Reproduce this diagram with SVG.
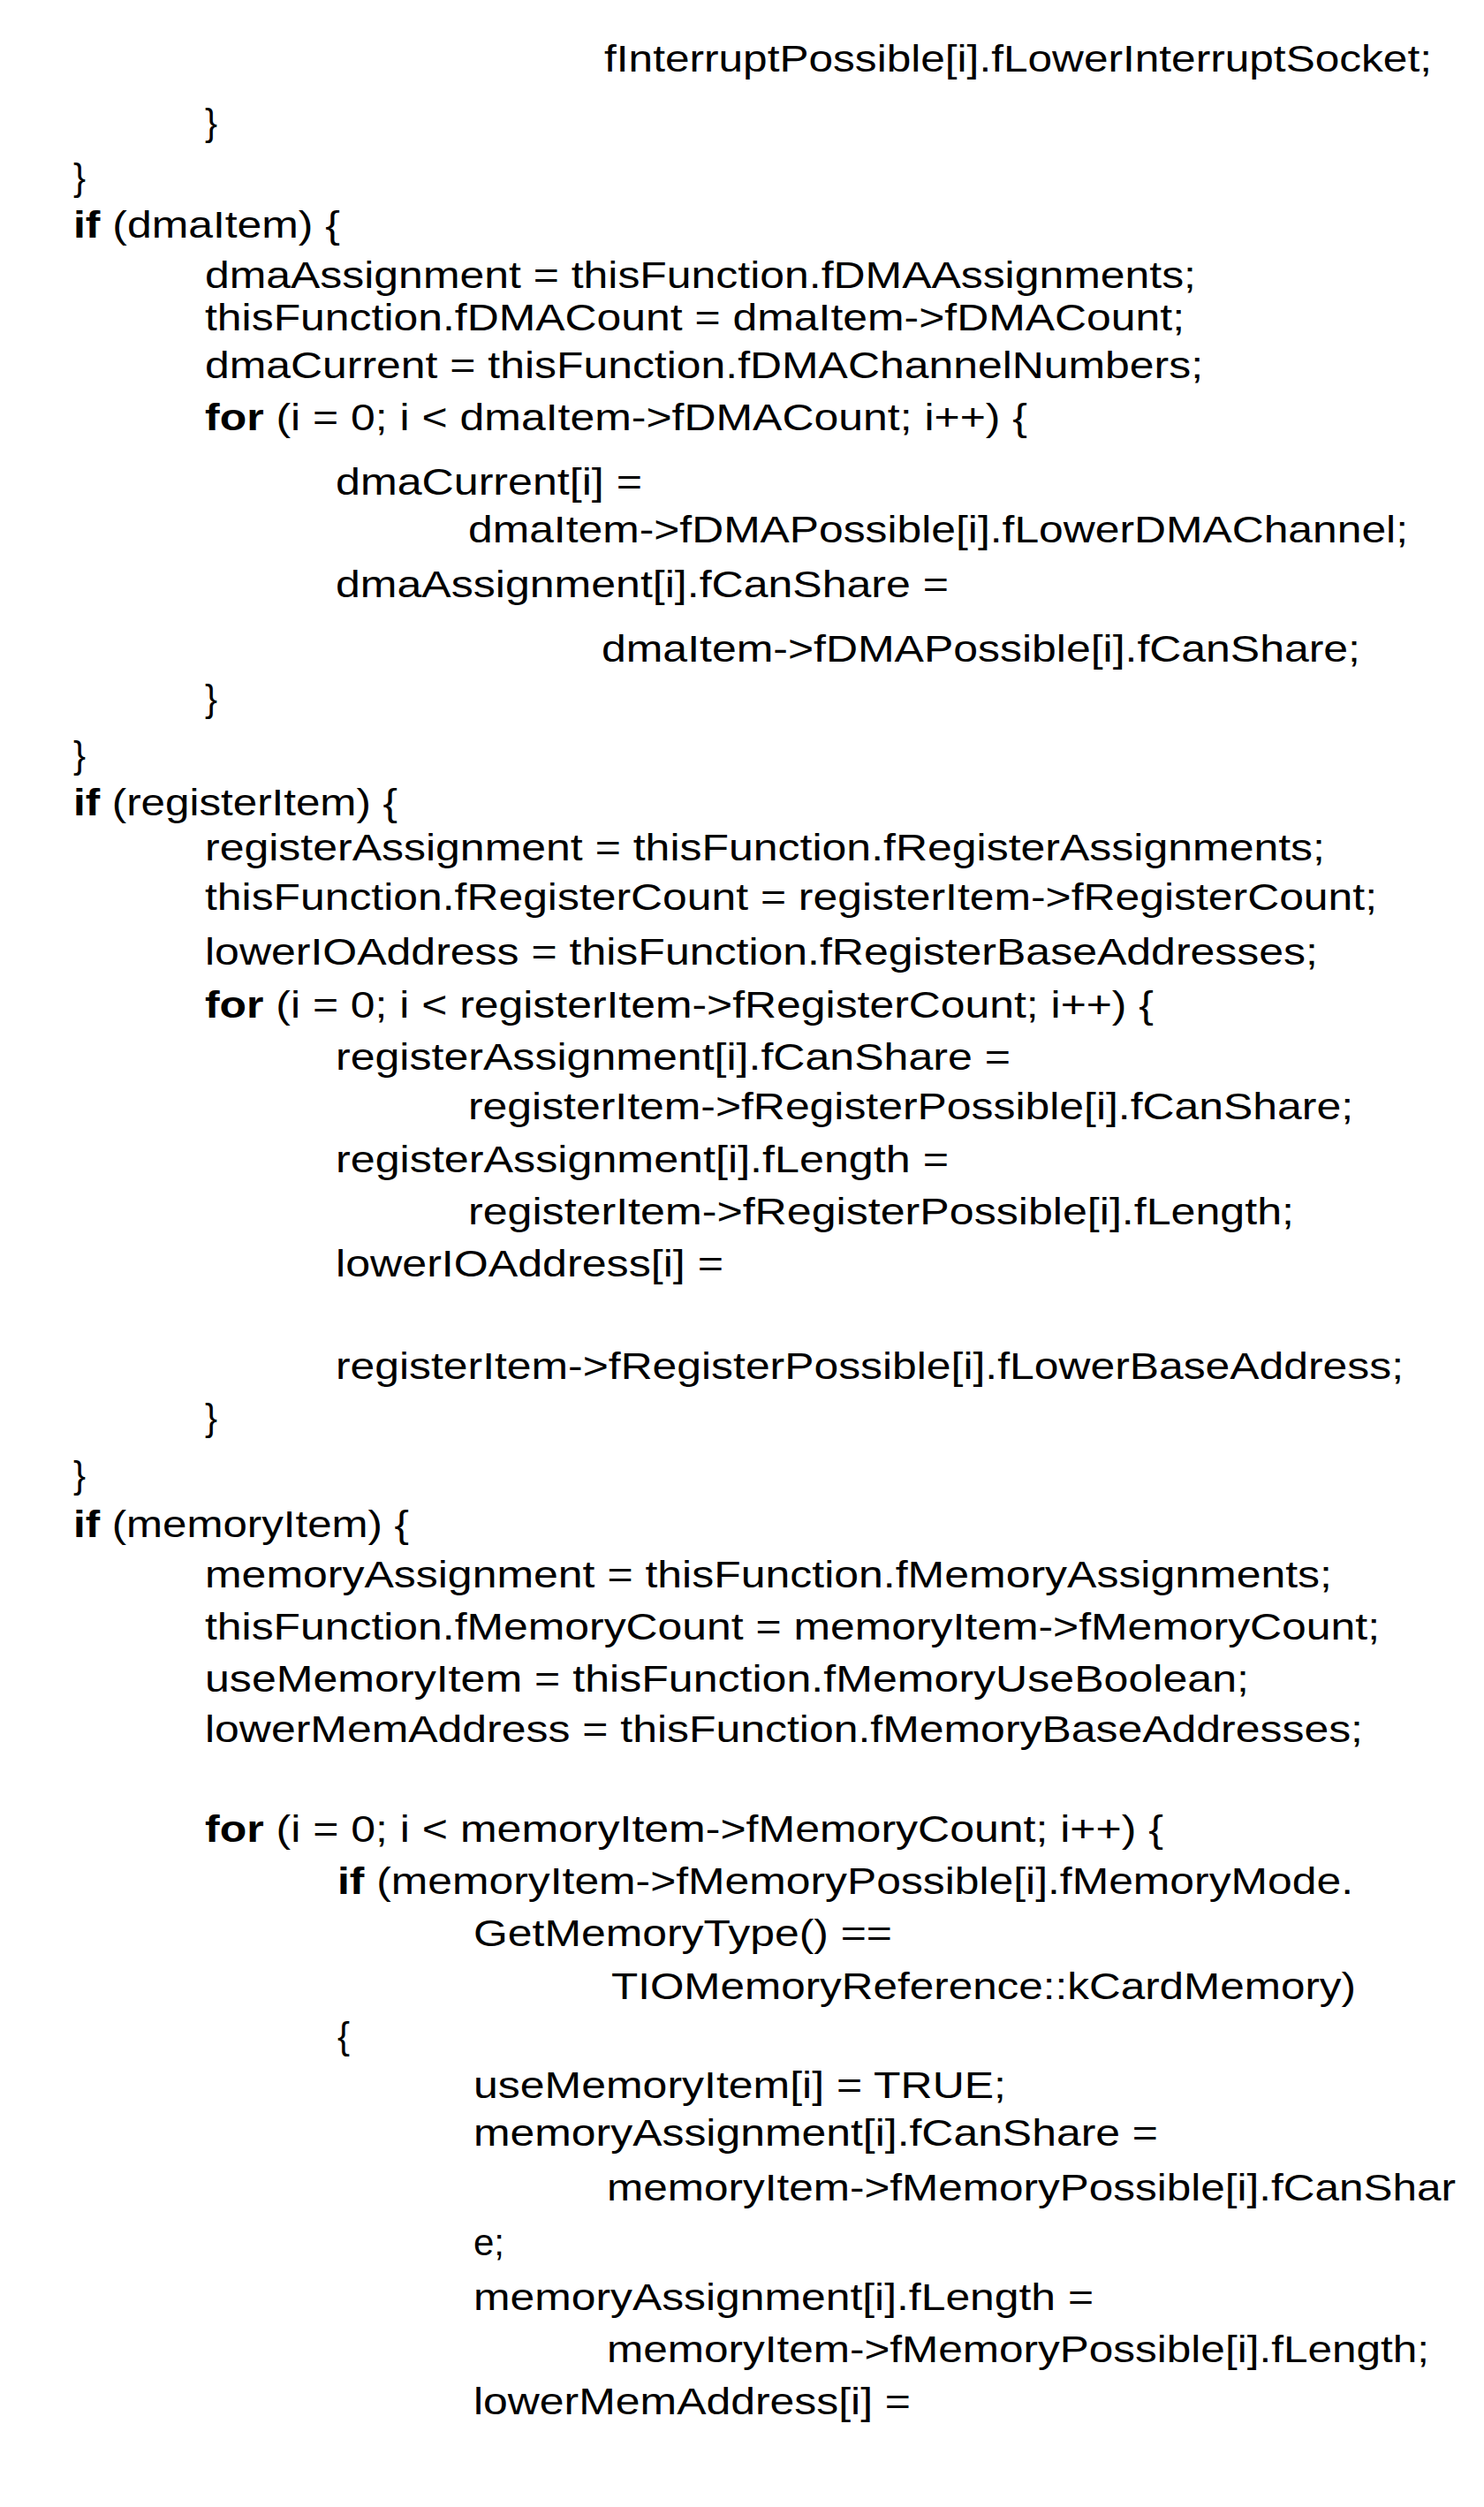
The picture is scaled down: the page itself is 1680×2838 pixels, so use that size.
<svg xmlns="http://www.w3.org/2000/svg" width="1680" height="2838" viewBox="0 0 1680 2838">
<style>
text{font-family:"Liberation Sans",Arial,sans-serif;font-size:42px;fill:#000}
.b{font-weight:bold}
</style>
<rect width="1680" height="2838" fill="#fff"/>
<g id="code">
<text x="684" y="81" textLength="937" lengthAdjust="spacingAndGlyphs">fInterruptPossible[i].fLowerInterruptSocket;</text>
<text x="232" y="153">}</text>
<text x="83" y="215">}</text>
<text x="83" y="269" textLength="302" lengthAdjust="spacingAndGlyphs"><tspan class="b">if</tspan> (dmaItem) {</text>
<text x="232" y="326" textLength="1122" lengthAdjust="spacingAndGlyphs">dmaAssignment = thisFunction.fDMAAssignments;</text>
<text x="232" y="374" textLength="1109" lengthAdjust="spacingAndGlyphs">thisFunction.fDMACount = dmaItem-&gt;fDMACount;</text>
<text x="232" y="428" textLength="1130" lengthAdjust="spacingAndGlyphs">dmaCurrent = thisFunction.fDMAChannelNumbers;</text>
<text x="232" y="487" textLength="931" lengthAdjust="spacingAndGlyphs"><tspan class="b">for</tspan> (i = 0; i &lt; dmaItem-&gt;fDMACount; i++) {</text>
<text x="380" y="560" textLength="347" lengthAdjust="spacingAndGlyphs">dmaCurrent[i] =</text>
<text x="530" y="614" textLength="1064" lengthAdjust="spacingAndGlyphs">dmaItem-&gt;fDMAPossible[i].fLowerDMAChannel;</text>
<text x="380" y="676" textLength="694" lengthAdjust="spacingAndGlyphs">dmaAssignment[i].fCanShare =</text>
<text x="681" y="749" textLength="859" lengthAdjust="spacingAndGlyphs">dmaItem-&gt;fDMAPossible[i].fCanShare;</text>
<text x="232" y="805">}</text>
<text x="83" y="869">}</text>
<text x="83" y="923" textLength="367" lengthAdjust="spacingAndGlyphs"><tspan class="b">if</tspan> (registerItem) {</text>
<text x="232" y="974" textLength="1268" lengthAdjust="spacingAndGlyphs">registerAssignment = thisFunction.fRegisterAssignments;</text>
<text x="232" y="1030" textLength="1327" lengthAdjust="spacingAndGlyphs">thisFunction.fRegisterCount = registerItem-&gt;fRegisterCount;</text>
<text x="232" y="1092" textLength="1260" lengthAdjust="spacingAndGlyphs">lowerIOAddress = thisFunction.fRegisterBaseAddresses;</text>
<text x="232" y="1152" textLength="1074" lengthAdjust="spacingAndGlyphs"><tspan class="b">for</tspan> (i = 0; i &lt; registerItem-&gt;fRegisterCount; i++) {</text>
<text x="380" y="1211" textLength="764" lengthAdjust="spacingAndGlyphs">registerAssignment[i].fCanShare =</text>
<text x="530" y="1267" textLength="1002" lengthAdjust="spacingAndGlyphs">registerItem-&gt;fRegisterPossible[i].fCanShare;</text>
<text x="380" y="1327" textLength="694" lengthAdjust="spacingAndGlyphs">registerAssignment[i].fLength =</text>
<text x="530" y="1386" textLength="935" lengthAdjust="spacingAndGlyphs">registerItem-&gt;fRegisterPossible[i].fLength;</text>
<text x="380" y="1445" textLength="439" lengthAdjust="spacingAndGlyphs">lowerIOAddress[i] =</text>
<text x="380" y="1561" textLength="1209" lengthAdjust="spacingAndGlyphs">registerItem-&gt;fRegisterPossible[i].fLowerBaseAddress;</text>
<text x="232" y="1619">}</text>
<text x="83" y="1684">}</text>
<text x="83" y="1740" textLength="380" lengthAdjust="spacingAndGlyphs"><tspan class="b">if</tspan> (memoryItem) {</text>
<text x="232" y="1797" textLength="1276" lengthAdjust="spacingAndGlyphs">memoryAssignment = thisFunction.fMemoryAssignments;</text>
<text x="232" y="1856" textLength="1330" lengthAdjust="spacingAndGlyphs">thisFunction.fMemoryCount = memoryItem-&gt;fMemoryCount;</text>
<text x="232" y="1915" textLength="1182" lengthAdjust="spacingAndGlyphs">useMemoryItem = thisFunction.fMemoryUseBoolean;</text>
<text x="232" y="1972" textLength="1311" lengthAdjust="spacingAndGlyphs">lowerMemAddress = thisFunction.fMemoryBaseAddresses;</text>
<text x="232" y="2085" textLength="1085" lengthAdjust="spacingAndGlyphs"><tspan class="b">for</tspan> (i = 0; i &lt; memoryItem-&gt;fMemoryCount; i++) {</text>
<text x="382" y="2144" textLength="1150" lengthAdjust="spacingAndGlyphs"><tspan class="b">if</tspan> (memoryItem-&gt;fMemoryPossible[i].fMemoryMode.</text>
<text x="536" y="2203" textLength="474" lengthAdjust="spacingAndGlyphs">GetMemoryType() ==</text>
<text x="692" y="2263" textLength="843" lengthAdjust="spacingAndGlyphs">TIOMemoryReference::kCardMemory)</text>
<text x="382" y="2319">{</text>
<text x="536" y="2375" textLength="603" lengthAdjust="spacingAndGlyphs">useMemoryItem[i] = TRUE;</text>
<text x="536" y="2429" textLength="775" lengthAdjust="spacingAndGlyphs">memoryAssignment[i].fCanShare =</text>
<text x="687" y="2491" textLength="961" lengthAdjust="spacingAndGlyphs">memoryItem-&gt;fMemoryPossible[i].fCanShar</text>
<text x="536" y="2553">e;</text>
<text x="536" y="2615" textLength="702" lengthAdjust="spacingAndGlyphs">memoryAssignment[i].fLength =</text>
<text x="687" y="2674" textLength="931" lengthAdjust="spacingAndGlyphs">memoryItem-&gt;fMemoryPossible[i].fLength;</text>
<text x="536" y="2733" textLength="495" lengthAdjust="spacingAndGlyphs">lowerMemAddress[i] =</text>
</g>
</svg>
